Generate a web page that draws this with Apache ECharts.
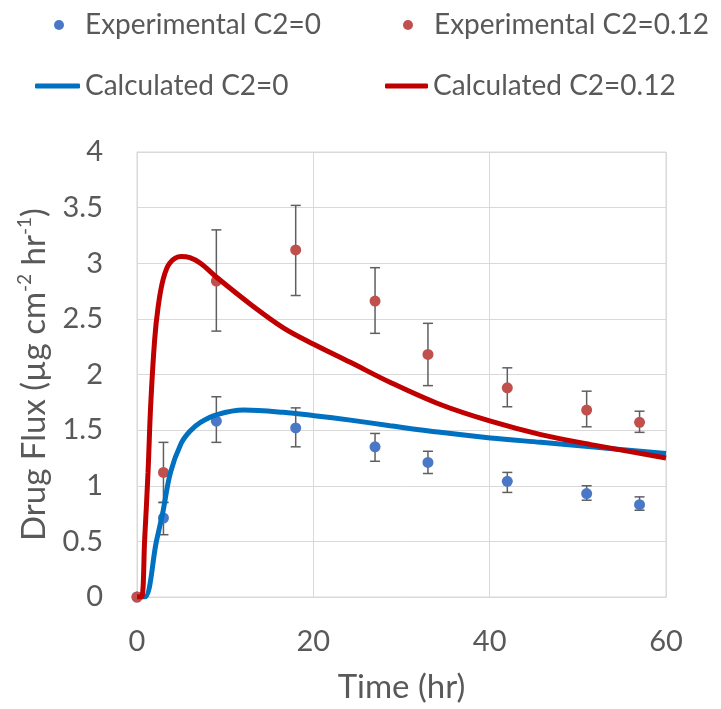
<!DOCTYPE html>
<html>
<head>
<meta charset="utf-8">
<script src="https://cdn.jsdelivr.net/npm/echarts@6/dist/echarts.min.js"></script>
<style>
  html, body { margin: 0; padding: 0; background: #fff; }
  #main { width: 721px; height: 709px; }
</style>
</head>
<body>
<div id="main"></div>
<script>
// measured points
var times = [0, 3, 9, 18, 27, 33, 42, 51, 57];
var exp0 = [0, 0.71, 1.58, 1.52, 1.35, 1.21, 1.04, 0.93, 0.83];
var exp0Low = [0, 0.56, 1.39, 1.35, 1.22, 1.11, 0.94, 0.87, 0.78];
var exp0High = [0, 0.85, 1.80, 1.70, 1.47, 1.31, 1.12, 1.00, 0.90];
var exp12 = [0, 1.12, 2.84, 3.12, 2.66, 2.18, 1.88, 1.68, 1.57];
var exp12Low = [0, 0.85, 2.39, 2.71, 2.37, 1.90, 1.71, 1.53, 1.48];
var exp12High = [0, 1.39, 3.30, 3.52, 2.96, 2.46, 2.06, 1.85, 1.67];

// model curves [time, flux]
var calc0 = [[0, 0], [0.87, 0], [2.2, 0.5], [2.9, 0.75], [3.8, 1.12], [5.0, 1.38], [6.0, 1.49],
  [7.2, 1.57], [9.1, 1.64], [12.1, 1.68], [16.6, 1.66], [20.1, 1.63], [24.2, 1.59], [28.7, 1.54],
  [34.4, 1.48], [40.1, 1.43], [45.8, 1.39], [51.5, 1.35], [60, 1.29]];
var calc12 = [[0, 0], [0.5, 0], [0.87, 0.52], [1.25, 1.12], [1.55, 1.72], [2.0, 2.31], [2.4, 2.61],
  [2.95, 2.85], [3.7, 3.0], [5.0, 3.06], [6.0, 3.05], [7.2, 3.0], [9.1, 2.87], [12.9, 2.63],
  [16.6, 2.42], [20.1, 2.27], [24.2, 2.11], [28.7, 1.93], [34.4, 1.73], [40.1, 1.58],
  [45.8, 1.46], [51.5, 1.37], [60, 1.25]];

var xTicks = [0, 20, 40, 60];
var yTicks = [0, 0.5, 1, 1.5, 2, 2.5, 3, 3.5, 4];

var FONT = 'Lato';
var GREY = '#595959';

function pairs(vals) {
  return times.map(function (t, i) { return [t, vals[i]]; });
}
function bars(lo, hi) {
  var out = [];
  for (var i = 0; i < times.length; i++) {
    if (hi[i] > lo[i]) out.push([times[i], lo[i], hi[i]]);
  }
  return out;
}

function errorBar(params, api) {
  var x = api.value(0);
  var p1 = api.coord([x, api.value(1)]);
  var p2 = api.coord([x, api.value(2)]);
  var w = 5;
  var st = { stroke: '#5f5f5f', lineWidth: 1.5 };
  return {
    type: 'group',
    children: [
      { type: 'line', shape: { x1: p1[0], y1: p1[1], x2: p2[0], y2: p2[1] }, style: st },
      { type: 'line', shape: { x1: p1[0] - w, y1: p1[1], x2: p1[0] + w, y2: p1[1] }, style: st },
      { type: 'line', shape: { x1: p2[0] - w, y1: p2[1], x2: p2[0] + w, y2: p2[1] }, style: st }
    ]
  };
}

function legendAt(name, left, top, icon, w, h, pad) {
  return {
    data: [name], left: left, top: top, icon: icon, itemWidth: w, itemHeight: h,
    padding: 0, selectedMode: false,
    textStyle: { fontFamily: FONT, fontSize: 28, color: GREY, padding: [0, 0, 0, pad] }
  };
}

var chart = echarts.init(document.getElementById('main'));
chart.setOption({
  backgroundColor: '#fff',
  animation: false,
  legend: [
    legendAt('Experimental C2=0', 54, 11, 'circle', 10, 10, 16),
    legendAt('Experimental C2=0.12', 403, 11, 'circle', 10, 10, 16),
    legendAt('Calculated C2=0', 35, 72, 'roundRect', 45, 5, 0),
    legendAt('Calculated C2=0.12', 385, 72, 'roundRect', 43, 5, 0)
  ],
  grid: { left: 137, right: 55, top: 152, bottom: 111, show: true, borderColor: '#d9d9d9', borderWidth: 1 },
  xAxis: {
    type: 'value', min: 0, max: 60, interval: 20,
    name: 'Time (hr)', nameLocation: 'middle', nameGap: 74,
    nameTextStyle: { fontFamily: FONT, fontSize: 33, color: GREY },
    axisLine: { lineStyle: { color: '#d9d9d9' } },
    axisTick: { show: false },
    axisLabel: { fontFamily: FONT, fontSize: 29, color: GREY, margin: 30,
      formatter: function (v) { return xTicks.indexOf(v) >= 0 ? String(v) : ''; } },
    splitLine: { lineStyle: { color: '#d9d9d9', width: 1 } }
  },
  yAxis: {
    type: 'value', min: 0, max: 4, interval: 0.5,
    name: '{a|Drug Flux (µg cm}{s|-2}{a| hr}{s|-1}{a|)}', nameLocation: 'middle', nameGap: 84,
    nameTextStyle: {
      rich: {
        a: { fontFamily: FONT, fontSize: 33, color: GREY, lineHeight: 38 },
        s: { fontFamily: FONT, fontSize: 19, color: GREY, lineHeight: 38, verticalAlign: 'top', padding: [0, 0, 14, 0] }
      }
    },
    axisLine: { show: true, lineStyle: { color: '#d9d9d9' } },
    axisTick: { show: false },
    axisLabel: { fontFamily: FONT, fontSize: 29, color: GREY, margin: 34,
      formatter: function (v) { return yTicks.indexOf(v) >= 0 ? String(v) : ''; } },
    splitLine: { lineStyle: { color: '#d9d9d9', width: 1 } }
  },
  series: [
    { name: 'errC0', type: 'custom', renderItem: errorBar, data: bars(exp0Low, exp0High), z: 1, silent: true },
    { name: 'errC12', type: 'custom', renderItem: errorBar, data: bars(exp12Low, exp12High), z: 1, silent: true },
    { name: 'Experimental C2=0', type: 'scatter', data: pairs(exp0), symbolSize: 11, clip: false,
      itemStyle: { color: '#4A78C6', opacity: 1 }, z: 2 },
    { name: 'Experimental C2=0.12', type: 'scatter', data: pairs(exp12), symbolSize: 11, clip: false,
      itemStyle: { color: '#C0504D', opacity: 1 }, z: 2 },
    { name: 'Calculated C2=0', type: 'line', data: calc0, showSymbol: false, symbol: 'none',
      smooth: 0.35, itemStyle: { color: '#0070C0' },
      lineStyle: { color: '#0070C0', width: 5 }, z: 3 },
    { name: 'Calculated C2=0.12', type: 'line', data: calc12, showSymbol: false, symbol: 'none',
      smooth: 0.35, itemStyle: { color: '#C00000' },
      lineStyle: { color: '#C00000', width: 5 }, z: 3 }
  ]
});
</script>
</body>
</html>
